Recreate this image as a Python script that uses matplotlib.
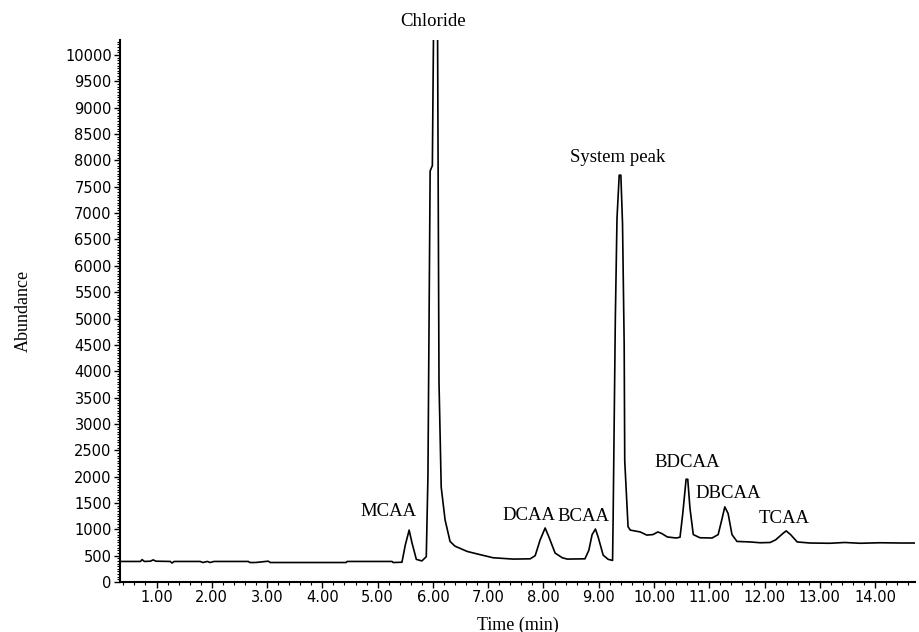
import matplotlib
matplotlib.use("Agg")
import matplotlib.pyplot as plt
from matplotlib.ticker import MultipleLocator, FixedLocator

# trace (time in min, abundance)
time_min = [0.34, 0.71, 0.74, 0.78, 0.89, 0.94, 0.99, 1.25, 1.28, 1.32,
            1.79, 1.84, 1.92, 1.97, 2.04, 2.66, 2.69, 2.78, 2.84, 3.02,
            3.06, 4.43, 4.45, 5.26, 5.28, 5.44, 5.50, 5.57, 5.62, 5.70,
            5.80, 5.88, 5.91, 5.95, 5.99, 6.02, 6.08, 6.11, 6.15, 6.22,
            6.31, 6.40, 6.62, 6.85, 7.09, 7.45, 7.76, 7.85, 7.94, 8.03,
            8.10, 8.21, 8.34, 8.43, 8.75, 8.82, 8.88, 8.94, 8.99, 9.08,
            9.17, 9.25, 9.26, 9.30, 9.33, 9.37, 9.40, 9.43, 9.46, 9.47,
            9.53, 9.57, 9.75, 9.87, 9.98, 10.07, 10.14, 10.24, 10.40, 10.47,
            10.52, 10.58, 10.61, 10.65, 10.71, 10.83, 11.05, 11.16, 11.23, 11.28,
            11.34, 11.41, 11.50, 11.74, 11.92, 12.10, 12.20, 12.33, 12.39, 12.47,
            12.59, 12.82, 13.18, 13.45, 13.73, 14.09, 14.45, 14.72]
abundance = [390, 390, 425, 390, 395, 420, 395, 390, 360, 390,
             390, 370, 390, 370, 390, 390, 370, 370, 375, 395,
             370, 370, 390, 390, 370, 375, 700, 985, 750, 430,
             400, 480, 2000, 7800, 7900, 11500, 11500, 3800, 1800, 1180,
             770, 680, 580, 520, 460, 435, 440, 500, 800, 1025,
             850, 550, 460, 435, 440, 600, 900, 1005, 850, 510,
             430, 410, 1200, 5000, 6900, 7720, 7720, 6800, 4500, 2300,
             1050, 985, 950, 890, 900, 950, 920, 855, 835, 850,
             1300, 1950, 1950, 1400, 900, 840, 835, 900, 1200, 1425,
             1300, 900, 770, 760, 745, 750, 800, 920, 970, 900,
             760, 740, 735, 750, 735, 745, 740, 740]

# peak labels: (text, time, abundance)
peak_names = ["Chloride", "System peak", "MCAA", "DCAA", "BCAA",
              "BDCAA", "DBCAA", "TCAA"]
peak_label_t = [6.00, 9.35, 5.19, 7.74, 8.72, 10.60, 11.35, 12.35]
peak_label_y = [10480, 7885, 1180, 1110, 1080, 2100, 1510, 1040]

x_ticks = list(range(1, 15))
x_tick_labels = ["%.2f" % v for v in x_ticks]
y_ticks = list(range(0, 10001, 500))

fig = plt.figure(figsize=(9.19, 6.32), dpi=100)
ax = fig.add_axes([0.1306, 0.0791, 0.865, 0.8576])

ax.plot(time_min, abundance, color="black", lw=1.2)

ax.set_xlim(0.34, 14.72)
ax.set_ylim(0, 10285)

for sp in ["top", "right"]:
    ax.spines[sp].set_visible(False)
for sp in ["left", "bottom"]:
    ax.spines[sp].set_linewidth(1.5)

ax.xaxis.set_major_locator(FixedLocator(x_ticks))
ax.set_xticklabels(x_tick_labels)
ax.xaxis.set_minor_locator(MultipleLocator(0.2))
ax.yaxis.set_major_locator(FixedLocator(y_ticks))
ax.yaxis.set_minor_locator(MultipleLocator(50))

for lab in ax.get_xticklabels() + ax.get_yticklabels():
    lab.set_fontfamily("DejaVu Sans")
    lab.set_fontsize(10.5)
ax.tick_params(axis="both", which="major", length=4, width=1.0, pad=2)
ax.tick_params(axis="both", which="minor", length=2, width=0.8)

serif = "Liberation Serif"
ax.set_xlabel("Time (min)", family=serif, fontsize=13, labelpad=8)
ax.set_ylabel("Abundance", family=serif, fontsize=13, labelpad=24)

for name, t, y in zip(peak_names, peak_label_t, peak_label_y):
    ax.text(t, y, name, family=serif, fontsize=13.5, ha="center",
            va="bottom", clip_on=False)

fig.savefig("out.png", dpi=100)
